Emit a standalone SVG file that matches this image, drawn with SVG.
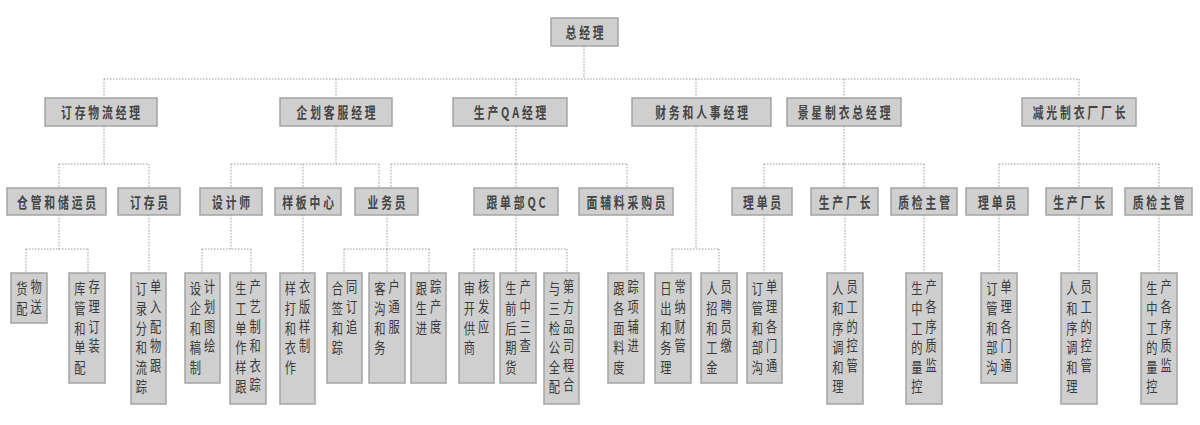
<svg xmlns="http://www.w3.org/2000/svg" width="1200" height="425" viewBox="0 0 1200 425">
<style>
.box{fill:#cfcfcf;stroke:#a4a4a4;stroke-width:1.5}
.t{font-family:"Noto Sans CJK SC","Noto Sans",sans-serif;font-size:15px;font-weight:bold;fill:#454545;letter-spacing:4px;text-anchor:middle;dominant-baseline:central}
.v{font-family:"Noto Sans CJK SC","Noto Sans",sans-serif;font-size:15px;font-weight:normal;fill:#3a3a3a;text-anchor:middle;dominant-baseline:central}
.c{fill:none;stroke:#9a9a9a;stroke-width:1;stroke-dasharray:1.5 1.5}
</style>
<rect width="1200" height="425" fill="#ffffff"/>
<g id="connectors" class="c">
<path d="M584,46V79M104,79H1079M104,79V98M336,79V98M516,79V98M696,79V98M844,79V98M1079,79V98"/>
<path d="M104,126V164M59,164H149M59,164V188M149,164V188"/>
<path d="M336,126V164M231,164H379M231,164V188M303,164V188M379,164V188"/>
<path d="M516,126V164M391,164H627M391,164V188M516,164V188M627,164V188"/>
<path d="M696,126V249M672,249H719M672,249V273M719,249V273"/>
<path d="M844,126V164M764,164H924M764,164V188M844,164V188M924,164V188"/>
<path d="M1079,126V164M999,164H1159M999,164V188M1079,164V188M1159,164V188"/>
<path d="M59,215V249M26,249H88M26,249V273M88,249V273M149,215V273"/>
<path d="M231,215V249M202,249H251M202,249V273M251,249V273M303,215V273"/>
<path d="M387,215V249M344,249H429M344,249V273M387,249V273M429,249V273"/>
<path d="M516,215V249M474,249H567M474,249V273M516,249V273M567,249V273"/>
<path d="M627,215V273M764,215V273M845,215V273M924,215V273M999,215V273M1079,215V273M1159,215V273"/>
</g>
<g id="n_ceo"><rect class="box" x="551" y="18" width="67" height="28"/><text class="t" transform="translate(586,32) scale(0.72,1)">总经理</text></g>
<g id="n_a"><rect class="box" x="45" y="98" width="112" height="28"/><text class="t" transform="translate(102,112) scale(0.72,1)">订存物流经理</text></g>
<g id="n_b"><rect class="box" x="280" y="98" width="112" height="28"/><text class="t" transform="translate(337.5,112) scale(0.72,1)">企划客服经理</text></g>
<g id="n_c"><rect class="box" x="453" y="98" width="114" height="28"/><text class="t" transform="translate(511.5,112) scale(0.72,1)">生产QA经理</text></g>
<g id="n_d"><rect class="box" x="632" y="98" width="139" height="28"/><text class="t" transform="translate(703,112) scale(0.72,1)">财务和人事经理</text></g>
<g id="n_e"><rect class="box" x="787" y="98" width="114" height="28"/><text class="t" transform="translate(845.5,112) scale(0.72,1)">景星制衣总经理</text></g>
<g id="n_f"><rect class="box" x="1022" y="98" width="114" height="28"/><text class="t" transform="translate(1080.5,112) scale(0.72,1)">减光制衣厂厂长</text></g>
<g id="n_a1"><rect class="box" x="7" y="188" width="99" height="27"/><text class="t" transform="translate(58,201.5) scale(0.72,1)">仓管和储运员</text></g>
<g id="n_a2"><rect class="box" x="118" y="188" width="62" height="27"/><text class="t" transform="translate(150.5,201.5) scale(0.72,1)">订存员</text></g>
<g id="n_b1"><rect class="box" x="200" y="188" width="62" height="27"/><text class="t" transform="translate(232.5,201.5) scale(0.72,1)">设计师</text></g>
<g id="n_b2"><rect class="box" x="275" y="188" width="66" height="27"/><text class="t" transform="translate(309.5,201.5) scale(0.72,1)">样板中心</text></g>
<g id="n_b3"><rect class="box" x="355" y="188" width="63" height="27"/><text class="t" transform="translate(388,201.5) scale(0.72,1)">业务员</text></g>
<g id="n_c1"><rect class="box" x="474" y="188" width="84" height="27"/><text class="t" transform="translate(517.5,201.5) scale(0.72,1)">跟单部QC</text></g>
<g id="n_c2"><rect class="box" x="579" y="188" width="94" height="27"/><text class="t" transform="translate(627.5,201.5) scale(0.72,1)">面辅料采购员</text></g>
<g id="n_e1"><rect class="box" x="732" y="188" width="60" height="27"/><text class="t" transform="translate(763.5,201.5) scale(0.72,1)">理单员</text></g>
<g id="n_e2"><rect class="box" x="811" y="188" width="67" height="27"/><text class="t" transform="translate(846,201.5) scale(0.72,1)">生产厂长</text></g>
<g id="n_e3"><rect class="box" x="891" y="188" width="66" height="27"/><text class="t" transform="translate(925.5,201.5) scale(0.72,1)">质检主管</text></g>
<g id="n_f1"><rect class="box" x="966" y="188" width="62" height="27"/><text class="t" transform="translate(998.5,201.5) scale(0.72,1)">理单员</text></g>
<g id="n_f2"><rect class="box" x="1046" y="188" width="66" height="27"/><text class="t" transform="translate(1080.5,201.5) scale(0.72,1)">生产厂长</text></g>
<g id="n_f3"><rect class="box" x="1125" y="188" width="67" height="27"/><text class="t" transform="translate(1160,201.5) scale(0.72,1)">质检主管</text></g>
<g id="l1"><rect class="box" x="11" y="273" width="36" height="50"/><g transform="translate(29,273) scale(0.75,1)"><text class="v" x="-9.5" y="15">货<tspan x="-9.5" dy="19.5">配</tspan></text><text class="v" x="9.5" y="13">物<tspan x="9.5" dy="19.5">送</tspan></text></g></g>
<g id="l2"><rect class="box" x="69" y="273" width="36" height="110"/><g transform="translate(87,273) scale(0.75,1)"><text class="v" x="-9.5" y="15">库<tspan x="-9.5" dy="19.5">管</tspan><tspan x="-9.5" dy="19.5">和</tspan><tspan x="-9.5" dy="19.5">单</tspan><tspan x="-9.5" dy="19.5">配</tspan></text><text class="v" x="9.5" y="13">存<tspan x="9.5" dy="19.5">理</tspan><tspan x="9.5" dy="19.5">订</tspan><tspan x="9.5" dy="19.5">装</tspan></text></g></g>
<g id="l3"><rect class="box" x="131" y="273" width="35" height="131"/><g transform="translate(148.5,273) scale(0.75,1)"><text class="v" x="-9.5" y="15">订<tspan x="-9.5" dy="19.5">录</tspan><tspan x="-9.5" dy="19.5">分</tspan><tspan x="-9.5" dy="19.5">和</tspan><tspan x="-9.5" dy="19.5">流</tspan><tspan x="-9.5" dy="19.5">踪</tspan></text><text class="v" x="9.5" y="13">单<tspan x="9.5" dy="19.5">入</tspan><tspan x="9.5" dy="19.5">配</tspan><tspan x="9.5" dy="19.5">物</tspan><tspan x="9.5" dy="19.5">跟</tspan></text></g></g>
<g id="l4"><rect class="box" x="185" y="273" width="35" height="110"/><g transform="translate(202.5,273) scale(0.75,1)"><text class="v" x="-9.5" y="15">设<tspan x="-9.5" dy="19.5">企</tspan><tspan x="-9.5" dy="19.5">和</tspan><tspan x="-9.5" dy="19.5">稿</tspan><tspan x="-9.5" dy="19.5">制</tspan></text><text class="v" x="9.5" y="13">计<tspan x="9.5" dy="19.5">划</tspan><tspan x="9.5" dy="19.5">图</tspan><tspan x="9.5" dy="19.5">绘</tspan></text></g></g>
<g id="l5"><rect class="box" x="230" y="273" width="36" height="131"/><g transform="translate(248,273) scale(0.75,1)"><text class="v" x="-9.5" y="15">生<tspan x="-9.5" dy="19.5">工</tspan><tspan x="-9.5" dy="19.5">单</tspan><tspan x="-9.5" dy="19.5">作</tspan><tspan x="-9.5" dy="19.5">样</tspan><tspan x="-9.5" dy="19.5">跟</tspan></text><text class="v" x="9.5" y="13">产<tspan x="9.5" dy="19.5">艺</tspan><tspan x="9.5" dy="19.5">制</tspan><tspan x="9.5" dy="19.5">和</tspan><tspan x="9.5" dy="19.5">衣</tspan><tspan x="9.5" dy="19.5">踪</tspan></text></g></g>
<g id="l6"><rect class="box" x="280" y="273" width="35" height="131"/><g transform="translate(297.5,273) scale(0.75,1)"><text class="v" x="-9.5" y="15">样<tspan x="-9.5" dy="19.5">打</tspan><tspan x="-9.5" dy="19.5">和</tspan><tspan x="-9.5" dy="19.5">衣</tspan><tspan x="-9.5" dy="19.5">作</tspan></text><text class="v" x="9.5" y="13">衣<tspan x="9.5" dy="19.5">版</tspan><tspan x="9.5" dy="19.5">样</tspan><tspan x="9.5" dy="19.5">制</tspan></text></g></g>
<g id="l7"><rect class="box" x="327" y="273" width="35" height="110"/><g transform="translate(344.5,273) scale(0.75,1)"><text class="v" x="-9.5" y="15">合<tspan x="-9.5" dy="19.5">签</tspan><tspan x="-9.5" dy="19.5">和</tspan><tspan x="-9.5" dy="19.5">踪</tspan></text><text class="v" x="9.5" y="13">同<tspan x="9.5" dy="19.5">订</tspan><tspan x="9.5" dy="19.5">追</tspan></text></g></g>
<g id="l8"><rect class="box" x="369" y="273" width="36" height="110"/><g transform="translate(387,273) scale(0.75,1)"><text class="v" x="-9.5" y="15">客<tspan x="-9.5" dy="19.5">沟</tspan><tspan x="-9.5" dy="19.5">和</tspan><tspan x="-9.5" dy="19.5">务</tspan></text><text class="v" x="9.5" y="13">户<tspan x="9.5" dy="19.5">通</tspan><tspan x="9.5" dy="19.5">服</tspan></text></g></g>
<g id="l9"><rect class="box" x="411" y="273" width="35" height="110"/><g transform="translate(428.5,273) scale(0.75,1)"><text class="v" x="-9.5" y="15">跟<tspan x="-9.5" dy="19.5">生</tspan><tspan x="-9.5" dy="19.5">进</tspan></text><text class="v" x="9.5" y="13">踪<tspan x="9.5" dy="19.5">产</tspan><tspan x="9.5" dy="19.5">度</tspan></text></g></g>
<g id="l10"><rect class="box" x="459" y="273" width="35" height="110"/><g transform="translate(476.5,273) scale(0.75,1)"><text class="v" x="-9.5" y="15">审<tspan x="-9.5" dy="19.5">开</tspan><tspan x="-9.5" dy="19.5">供</tspan><tspan x="-9.5" dy="19.5">商</tspan></text><text class="v" x="9.5" y="13">核<tspan x="9.5" dy="19.5">发</tspan><tspan x="9.5" dy="19.5">应</tspan></text></g></g>
<g id="l11"><rect class="box" x="500" y="273" width="36" height="110"/><g transform="translate(518,273) scale(0.75,1)"><text class="v" x="-9.5" y="15">生<tspan x="-9.5" dy="19.5">前</tspan><tspan x="-9.5" dy="19.5">后</tspan><tspan x="-9.5" dy="19.5">期</tspan><tspan x="-9.5" dy="19.5">货</tspan></text><text class="v" x="9.5" y="13">产<tspan x="9.5" dy="19.5">中</tspan><tspan x="9.5" dy="19.5">三</tspan><tspan x="9.5" dy="19.5">查</tspan></text></g></g>
<g id="l12"><rect class="box" x="544" y="273" width="35" height="131"/><g transform="translate(561.5,273) scale(0.75,1)"><text class="v" x="-9.5" y="15">与<tspan x="-9.5" dy="19.5">三</tspan><tspan x="-9.5" dy="19.5">检</tspan><tspan x="-9.5" dy="19.5">公</tspan><tspan x="-9.5" dy="19.5">全</tspan><tspan x="-9.5" dy="19.5">配</tspan></text><text class="v" x="9.5" y="13">第<tspan x="9.5" dy="19.5">方</tspan><tspan x="9.5" dy="19.5">品</tspan><tspan x="9.5" dy="19.5">司</tspan><tspan x="9.5" dy="19.5">程</tspan><tspan x="9.5" dy="19.5">合</tspan></text></g></g>
<g id="l13"><rect class="box" x="608" y="273" width="36" height="110"/><g transform="translate(626,273) scale(0.75,1)"><text class="v" x="-9.5" y="15">跟<tspan x="-9.5" dy="19.5">各</tspan><tspan x="-9.5" dy="19.5">面</tspan><tspan x="-9.5" dy="19.5">料</tspan><tspan x="-9.5" dy="19.5">度</tspan></text><text class="v" x="9.5" y="13">踪<tspan x="9.5" dy="19.5">项</tspan><tspan x="9.5" dy="19.5">辅</tspan><tspan x="9.5" dy="19.5">进</tspan></text></g></g>
<g id="l14"><rect class="box" x="655" y="273" width="36" height="110"/><g transform="translate(673,273) scale(0.75,1)"><text class="v" x="-9.5" y="15">日<tspan x="-9.5" dy="19.5">出</tspan><tspan x="-9.5" dy="19.5">和</tspan><tspan x="-9.5" dy="19.5">务</tspan><tspan x="-9.5" dy="19.5">理</tspan></text><text class="v" x="9.5" y="13">常<tspan x="9.5" dy="19.5">纳</tspan><tspan x="9.5" dy="19.5">财</tspan><tspan x="9.5" dy="19.5">管</tspan></text></g></g>
<g id="l15"><rect class="box" x="701" y="273" width="36" height="110"/><g transform="translate(719,273) scale(0.75,1)"><text class="v" x="-9.5" y="15">人<tspan x="-9.5" dy="19.5">招</tspan><tspan x="-9.5" dy="19.5">和</tspan><tspan x="-9.5" dy="19.5">工</tspan><tspan x="-9.5" dy="19.5">金</tspan></text><text class="v" x="9.5" y="13">员<tspan x="9.5" dy="19.5">聘</tspan><tspan x="9.5" dy="19.5">员</tspan><tspan x="9.5" dy="19.5">缴</tspan></text></g></g>
<g id="l16"><rect class="box" x="747" y="273" width="35" height="110"/><g transform="translate(764.5,273) scale(0.75,1)"><text class="v" x="-9.5" y="15">订<tspan x="-9.5" dy="19.5">管</tspan><tspan x="-9.5" dy="19.5">和</tspan><tspan x="-9.5" dy="19.5">部</tspan><tspan x="-9.5" dy="19.5">沟</tspan></text><text class="v" x="9.5" y="13">单<tspan x="9.5" dy="19.5">理</tspan><tspan x="9.5" dy="19.5">各</tspan><tspan x="9.5" dy="19.5">门</tspan><tspan x="9.5" dy="19.5">通</tspan></text></g></g>
<g id="l17"><rect class="box" x="827" y="273" width="36" height="131"/><g transform="translate(845,273) scale(0.75,1)"><text class="v" x="-9.5" y="15">人<tspan x="-9.5" dy="19.5">和</tspan><tspan x="-9.5" dy="19.5">序</tspan><tspan x="-9.5" dy="19.5">调</tspan><tspan x="-9.5" dy="19.5">和</tspan><tspan x="-9.5" dy="19.5">理</tspan></text><text class="v" x="9.5" y="13">员<tspan x="9.5" dy="19.5">工</tspan><tspan x="9.5" dy="19.5">的</tspan><tspan x="9.5" dy="19.5">控</tspan><tspan x="9.5" dy="19.5">管</tspan></text></g></g>
<g id="l18"><rect class="box" x="906" y="273" width="36" height="131"/><g transform="translate(924,273) scale(0.75,1)"><text class="v" x="-9.5" y="15">生<tspan x="-9.5" dy="19.5">中</tspan><tspan x="-9.5" dy="19.5">工</tspan><tspan x="-9.5" dy="19.5">的</tspan><tspan x="-9.5" dy="19.5">量</tspan><tspan x="-9.5" dy="19.5">控</tspan></text><text class="v" x="9.5" y="13">产<tspan x="9.5" dy="19.5">各</tspan><tspan x="9.5" dy="19.5">序</tspan><tspan x="9.5" dy="19.5">质</tspan><tspan x="9.5" dy="19.5">监</tspan></text></g></g>
<g id="l19"><rect class="box" x="981" y="273" width="36" height="110"/><g transform="translate(999,273) scale(0.75,1)"><text class="v" x="-9.5" y="15">订<tspan x="-9.5" dy="19.5">管</tspan><tspan x="-9.5" dy="19.5">和</tspan><tspan x="-9.5" dy="19.5">部</tspan><tspan x="-9.5" dy="19.5">沟</tspan></text><text class="v" x="9.5" y="13">单<tspan x="9.5" dy="19.5">理</tspan><tspan x="9.5" dy="19.5">各</tspan><tspan x="9.5" dy="19.5">门</tspan><tspan x="9.5" dy="19.5">通</tspan></text></g></g>
<g id="l20"><rect class="box" x="1061" y="273" width="36" height="131"/><g transform="translate(1079,273) scale(0.75,1)"><text class="v" x="-9.5" y="15">人<tspan x="-9.5" dy="19.5">和</tspan><tspan x="-9.5" dy="19.5">序</tspan><tspan x="-9.5" dy="19.5">调</tspan><tspan x="-9.5" dy="19.5">和</tspan><tspan x="-9.5" dy="19.5">理</tspan></text><text class="v" x="9.5" y="13">员<tspan x="9.5" dy="19.5">工</tspan><tspan x="9.5" dy="19.5">的</tspan><tspan x="9.5" dy="19.5">控</tspan><tspan x="9.5" dy="19.5">管</tspan></text></g></g>
<g id="l21"><rect class="box" x="1141" y="273" width="36" height="131"/><g transform="translate(1159,273) scale(0.75,1)"><text class="v" x="-9.5" y="15">生<tspan x="-9.5" dy="19.5">中</tspan><tspan x="-9.5" dy="19.5">工</tspan><tspan x="-9.5" dy="19.5">的</tspan><tspan x="-9.5" dy="19.5">量</tspan><tspan x="-9.5" dy="19.5">控</tspan></text><text class="v" x="9.5" y="13">产<tspan x="9.5" dy="19.5">各</tspan><tspan x="9.5" dy="19.5">序</tspan><tspan x="9.5" dy="19.5">质</tspan><tspan x="9.5" dy="19.5">监</tspan></text></g></g>
</svg>
